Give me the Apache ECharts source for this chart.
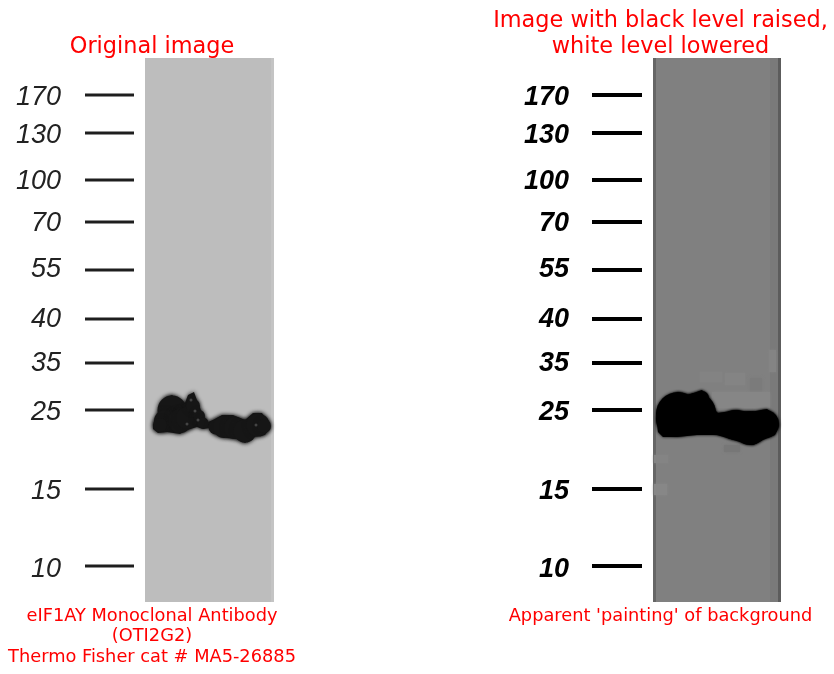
<!DOCTYPE html>
<html><head><meta charset="utf-8">
<style>html,body{margin:0;padding:0;background:#fff}#c{width:834px;height:674px}</style>
<script src="https://cdn.jsdelivr.net/npm/echarts@6/dist/echarts.min.js"></script>
</head><body><div id="c"></div>
<script>
const ladderLabels = ['170','130','100','70','55','40','35','25','15','10'];
const ladderRows = [95,133,180,222,270,319,363,410,489,566];
const labelRows = [96,134,180,222,268,318,362,411,490,568];
const leftBlot = [[153,425],[157,418],[160,410],[165,398],[172,395],[178,400],[185,403],[188,395],[194,392],[198,403],[203,415],[208,422],[213,420],[222,415],[233,415],[245,420],[253,413],[262,413],[268,422],[270,427],[265,435],[253,437],[245,443],[238,439],[227,438],[217,435],[210,428],[203,429],[197,427],[187,430],[180,434],[167,432],[158,433],[153,429]];
const rightBlot = [[657,423],[662,410],[668,398],[678,392],[688,395],[702,390],[708,397],[713,408],[718,413],[737,410],[750,412],[767,409],[775,415],[779,425],[775,435],[763,440],[753,445],[740,442],[727,438],[717,435],[697,435],[677,437],[663,437],[658,432]];
const leftBlobs = [[172,410,29],[165,421,22],[180,421,24],[160,425,14],[187,418,22],[193,406,14],[199,416,12],[203,423,11],[216,427,15],[224,427,22],[235,428,22],[245,431,23],[258,425,23],[264,426,14]];
const rightBlobs = [[678,414,44],[668,420,24],[696,413,40],[702,398,14],[720,424,22],[735,425,30],[750,428,34],[765,424,28]];
const leftSpeckles = [[191,400],[195,411],[198,420],[187,424],[256,425]];
const leftStrips = [[145,271,'#bdbdbd'],[271,274,'#c4c4c4']];
const rightStrips = [[653,656,'#666666'],[656,770,'#808080'],[770,778,'#7a7a7a'],[778,781,'#5c5c5c']];
const rightPatches = [[725,745,373,385,'#848484'],[750,762,378,392,'#7b7b7b'],[700,722,372,382,'#838383'],[769,776,350,372,'#848484'],[654,667,484,495,'#878787'],[654,668,455,463,'#848484'],[724,740,445,452,'#777777'],[712,770,392,408,'#868686']];
const rowRange = [58,602];

function stripSeries(xi, strips){
  return {type:'custom',xAxisIndex:xi,yAxisIndex:xi,silent:true,z:1,data:strips,
    renderItem(p,api){const a=api.coord([api.value(0),rowRange[0]]),b=api.coord([api.value(1),rowRange[1]]);
      return {type:'rect',shape:{x:a[0],y:a[1],width:b[0]-a[0],height:b[1]-a[1]},style:{fill:strips[p.dataIndex][2]}};}};
}
function patchSeries(xi, patches){
  return {type:'custom',xAxisIndex:xi,yAxisIndex:xi,silent:true,z:2,data:patches,
    renderItem(p,api){const a=api.coord([api.value(0),api.value(2)]),b=api.coord([api.value(1),api.value(3)]);
      return {type:'rect',shape:{x:a[0],y:a[1],width:b[0]-a[0],height:b[1]-a[1]},style:{fill:patches[p.dataIndex][4],shadowBlur:3,shadowColor:patches[p.dataIndex][4]}};}};
}
function outlineSeries(xi, outline, fill, blur){
  return {type:'custom',xAxisIndex:xi,yAxisIndex:xi,silent:true,z:4,data:[0],
    renderItem(p,api){return {type:'polygon',shape:{points:outline.map(q=>api.coord(q))},
      style:{fill:fill,shadowBlur:blur,shadowColor:fill}};}};
}
function blobSeries(xi, blobs, fill, blur){
  return {type:'scatter',xAxisIndex:xi,yAxisIndex:xi,silent:true,z:4,data:blobs,
    symbolSize:v=>v[2],itemStyle:{color:fill,opacity:1,shadowBlur:blur,shadowColor:fill}};
}
function ladderSeries(xi, x0, x1, color, width){
  return {type:'custom',xAxisIndex:xi,yAxisIndex:xi,silent:true,z:3,data:ladderRows,
    renderItem(p,api){const y=ladderRows[p.dataIndex],a=api.coord([x0,y]),b=api.coord([x1,y]);
      return {type:'line',shape:{x1:a[0],y1:a[1],x2:b[0],y2:b[1]},style:{stroke:color,lineWidth:width}};}};
}
function labelSeries(xi, xRight, color, weight){
  return {type:'scatter',xAxisIndex:xi,yAxisIndex:xi,silent:true,symbolSize:0,z:3,itemStyle:{opacity:1},
    data:labelRows.map((y,i)=>({value:[xRight,y+1.5],name:ladderLabels[i]})),
    label:{show:true,position:'left',distance:0,formatter:'{b}',fontFamily:'Liberation Sans',fontStyle:'italic',fontWeight:weight,fontSize:27,color:color}};
}
const hidden = {show:false};
const red = '#ff0000';
const chart = echarts.init(document.getElementById('c'),null,{renderer:'canvas'});
chart.setOption({
  animation:false,backgroundColor:'#fff',
  grid:[{left:0,top:58,width:300,height:544},{left:507,top:58,width:300,height:544}],
  xAxis:[{type:'value',gridIndex:0,min:0,max:300,...hidden},{type:'value',gridIndex:1,min:507,max:807,...hidden}],
  yAxis:[{type:'value',gridIndex:0,min:rowRange[0],max:rowRange[1],inverse:true,...hidden},{type:'value',gridIndex:1,min:rowRange[0],max:rowRange[1],inverse:true,...hidden}],
  title:[
    {text:'Original image',left:147,top:31,textAlign:'center',textStyle:{fontFamily:'DejaVu Sans',fontWeight:'normal',fontSize:22.4,color:red}},
    {text:'Image with black level raised,\nwhite level lowered',left:655.5,top:3,textAlign:'center',textStyle:{fontFamily:'DejaVu Sans',fontWeight:'normal',fontSize:22.4,lineHeight:26,color:red}},
    {text:'eIF1AY Monoclonal Antibody\n(OTI2G2)\nThermo Fisher cat # MA5-26885',left:147,top:601,textAlign:'center',textStyle:{fontFamily:'DejaVu Sans',fontWeight:'normal',fontSize:17.8,lineHeight:20.5,color:red}},
    {text:"Apparent 'painting' of background",left:655.5,top:601,textAlign:'center',textStyle:{fontFamily:'DejaVu Sans',fontWeight:'normal',fontSize:17.8,lineHeight:20.5,color:red}}
  ],
  series:[
    stripSeries(0,leftStrips),
    ladderSeries(0,85,134,'#1e1e1e',3),
    labelSeries(0,61,'#222222','normal'),
    outlineSeries(0,leftBlot,'#161616',4),
    blobSeries(0,leftBlobs,'#161616',4),
    {type:'scatter',xAxisIndex:0,yAxisIndex:0,silent:true,z:5,symbolSize:3,data:leftSpeckles,itemStyle:{color:'#444444',opacity:1}},
    stripSeries(1,rightStrips),
    patchSeries(1,rightPatches),
    ladderSeries(1,592,642,'#000000',4),
    labelSeries(1,569,'#000000','bold'),
    outlineSeries(1,rightBlot,'#000000',3),
    blobSeries(1,rightBlobs,'#000000',3)
  ]
});
</script></body></html>
